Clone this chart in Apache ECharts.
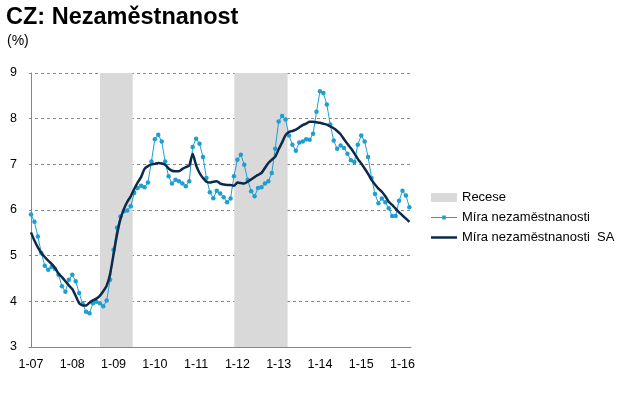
<!DOCTYPE html>
<html>
<head>
<meta charset="utf-8">
<script src="https://cdn.jsdelivr.net/npm/echarts@6/dist/echarts.min.js"></script>
<style>
html,body{margin:0;padding:0;background:#fff;}
#chart{width:632px;height:394px;}
</style>
</head>
<body>
<div id="chart"></div>
<script>
// Month index 0 = Jan 2007 ... 110 = Mar 2016
var tickLabels = ['1-07','1-08','1-09','1-10','1-11','1-12','1-13','1-14','1-15','1-16'];
var tickPositions = [0,12,24,36,48,60,72,84,96,108];

var miraNezamestnanosti = [
  5.90,5.74,5.42,5.06,4.78,4.69,4.75,4.71,4.58,4.33,4.21,4.47,
  4.58,4.44,4.18,3.95,3.77,3.74,3.96,3.99,3.96,3.89,4.02,4.47,
  5.13,5.61,5.86,5.97,5.99,6.08,6.37,6.48,6.53,6.50,6.60,7.06,
  7.55,7.65,7.50,7.06,6.74,6.58,6.66,6.63,6.58,6.52,6.63,7.38,
  7.56,7.45,7.16,6.70,6.39,6.26,6.42,6.36,6.28,6.17,6.25,6.74,
  7.10,7.21,6.99,6.66,6.41,6.30,6.48,6.50,6.58,6.63,6.81,7.34,
  7.94,8.06,7.98,7.63,7.43,7.30,7.48,7.50,7.55,7.54,7.67,8.15,
  8.60,8.56,8.31,7.87,7.52,7.34,7.41,7.36,7.23,7.09,7.05,7.43,
  7.63,7.50,7.16,6.70,6.35,6.15,6.25,6.17,6.04,5.87,5.87,6.20,
  6.42,6.32,6.06
];

var miraSA = [
  5.51,5.33,5.18,5.06,4.97,4.89,4.82,4.73,4.61,4.53,4.44,4.35,
  4.27,4.12,3.96,3.91,3.91,3.97,4.02,4.06,4.12,4.22,4.34,4.60,
  5.03,5.46,5.80,6.02,6.18,6.30,6.46,6.60,6.72,6.90,6.96,7.00,
  7.01,7.03,7.02,6.99,6.91,6.86,6.85,6.85,6.90,6.94,6.97,7.23,
  6.98,6.81,6.70,6.62,6.60,6.62,6.63,6.58,6.56,6.55,6.55,6.53,
  6.60,6.59,6.58,6.62,6.67,6.72,6.77,6.81,6.92,7.03,7.10,7.17,
  7.33,7.48,7.64,7.71,7.73,7.76,7.81,7.86,7.89,7.93,7.93,7.92,
  7.91,7.89,7.87,7.83,7.79,7.73,7.66,7.55,7.45,7.35,7.24,7.12,
  7.02,6.91,6.79,6.66,6.56,6.47,6.40,6.30,6.18,6.11,6.03,5.95,
  5.88,5.81,5.74
];

// Recession periods (month index, start/end)
var recessionStart = [20.06, 59.1];
var recessionEnd = [29.56, 74.6];

var seriesNames = ['Recese', 'Míra nezaměstnanosti', 'Míra nezaměstnanosti  SA'];
var colors = { recese: '#d9d9d9', mira: '#1f9fcf', sa: '#0c2a4c' };
var FONT = 'Liberation Sans, Arial, sans-serif';

var chart = echarts.init(document.getElementById('chart'), null, {renderer: 'canvas'});

var option = {
  animation: false,
  backgroundColor: '#ffffff',
  textStyle: { fontFamily: FONT },
  title: [
    { text: 'CZ: Nezaměstnanost', left: 6, top: 6, padding: 0,
      textStyle: { fontSize: 23.5, fontWeight: 'bold', color: '#000', fontFamily: FONT } },
    { text: '(%)', left: 7, top: 34, padding: 0,
      textStyle: { fontSize: 14, fontWeight: 'normal', color: '#000', fontFamily: FONT } }
  ],
  grid: { left: 29, right: 221, top: 73, bottom: 47, containLabel: false },
  legend: {
    orient: 'vertical', left: 431, top: 191, padding: 0,
    itemWidth: 26, itemHeight: 9, itemGap: 7,
    textStyle: { fontSize: 13, color: '#000', fontFamily: FONT },
    data: [
      { name: seriesNames[0], icon: 'rect', itemStyle: { color: colors.recese } },
      { name: seriesNames[1], icon: 'path://M0,1.6 L26,1.6 L26,2.6 L0,2.6 Z M11.2,0.1 L14.8,0.1 L14.8,4.1 L11.2,4.1 Z',
        itemStyle: { color: colors.mira } },
      { name: seriesNames[2], icon: 'path://M0,0 L26,0 L26,2.5 L0,2.5 Z',
        itemStyle: { color: colors.sa } }
    ]
  },
  xAxis: {
    type: 'value', min: -0.58, max: 110.47,
    splitLine: { show: false },
    axisLine: { show: true, onZero: false, lineStyle: { color: '#868686', width: 1 } },
    axisTick: { show: false },
    axisLabel: {
      customValues: tickPositions,
      fontSize: 12.5, color: '#000', margin: 11, fontFamily: FONT,
      formatter: function (v) {
        var k = tickPositions.indexOf(Math.round(v));
        return k >= 0 ? tickLabels[k] : '';
      }
    }
  },
  yAxis: {
    type: 'value', min: 3, max: 9, interval: 1,
    axisLine: { show: true, lineStyle: { color: '#868686', width: 1 } },
    axisTick: { show: false },
    axisLabel: { fontSize: 12.5, color: '#000', margin: 12, fontFamily: FONT },
    splitLine: { show: true, lineStyle: { color: '#8a8a8a', type: [3, 3], width: 1 } }
  },
  series: [
    {
      name: seriesNames[0], type: 'line', data: [], silent: true,
      itemStyle: { color: colors.recese },
      markArea: {
        silent: true,
        itemStyle: { color: colors.recese, opacity: 1 },
        data: recessionStart.map(function (s, k) {
          return [{ xAxis: s }, { xAxis: recessionEnd[k] }];
        })
      }
    },
    {
      name: seriesNames[1], type: 'line',
      data: miraNezamestnanosti.map(function (v, i) { return [i, v]; }),
      symbol: 'circle', symbolSize: 4.5, showSymbol: true,
      lineStyle: { color: colors.mira, width: 1 },
      itemStyle: { color: colors.mira, borderWidth: 0 },
      z: 3
    },
    {
      name: seriesNames[2], type: 'line',
      data: miraSA.map(function (v, i) { return [i, v]; }),
      symbol: 'none', smooth: 0.2,
      lineStyle: { color: colors.sa, width: 2.5 },
      itemStyle: { color: colors.sa },
      z: 4
    }
  ]
};
chart.setOption(option);
</script>
</body>
</html>
